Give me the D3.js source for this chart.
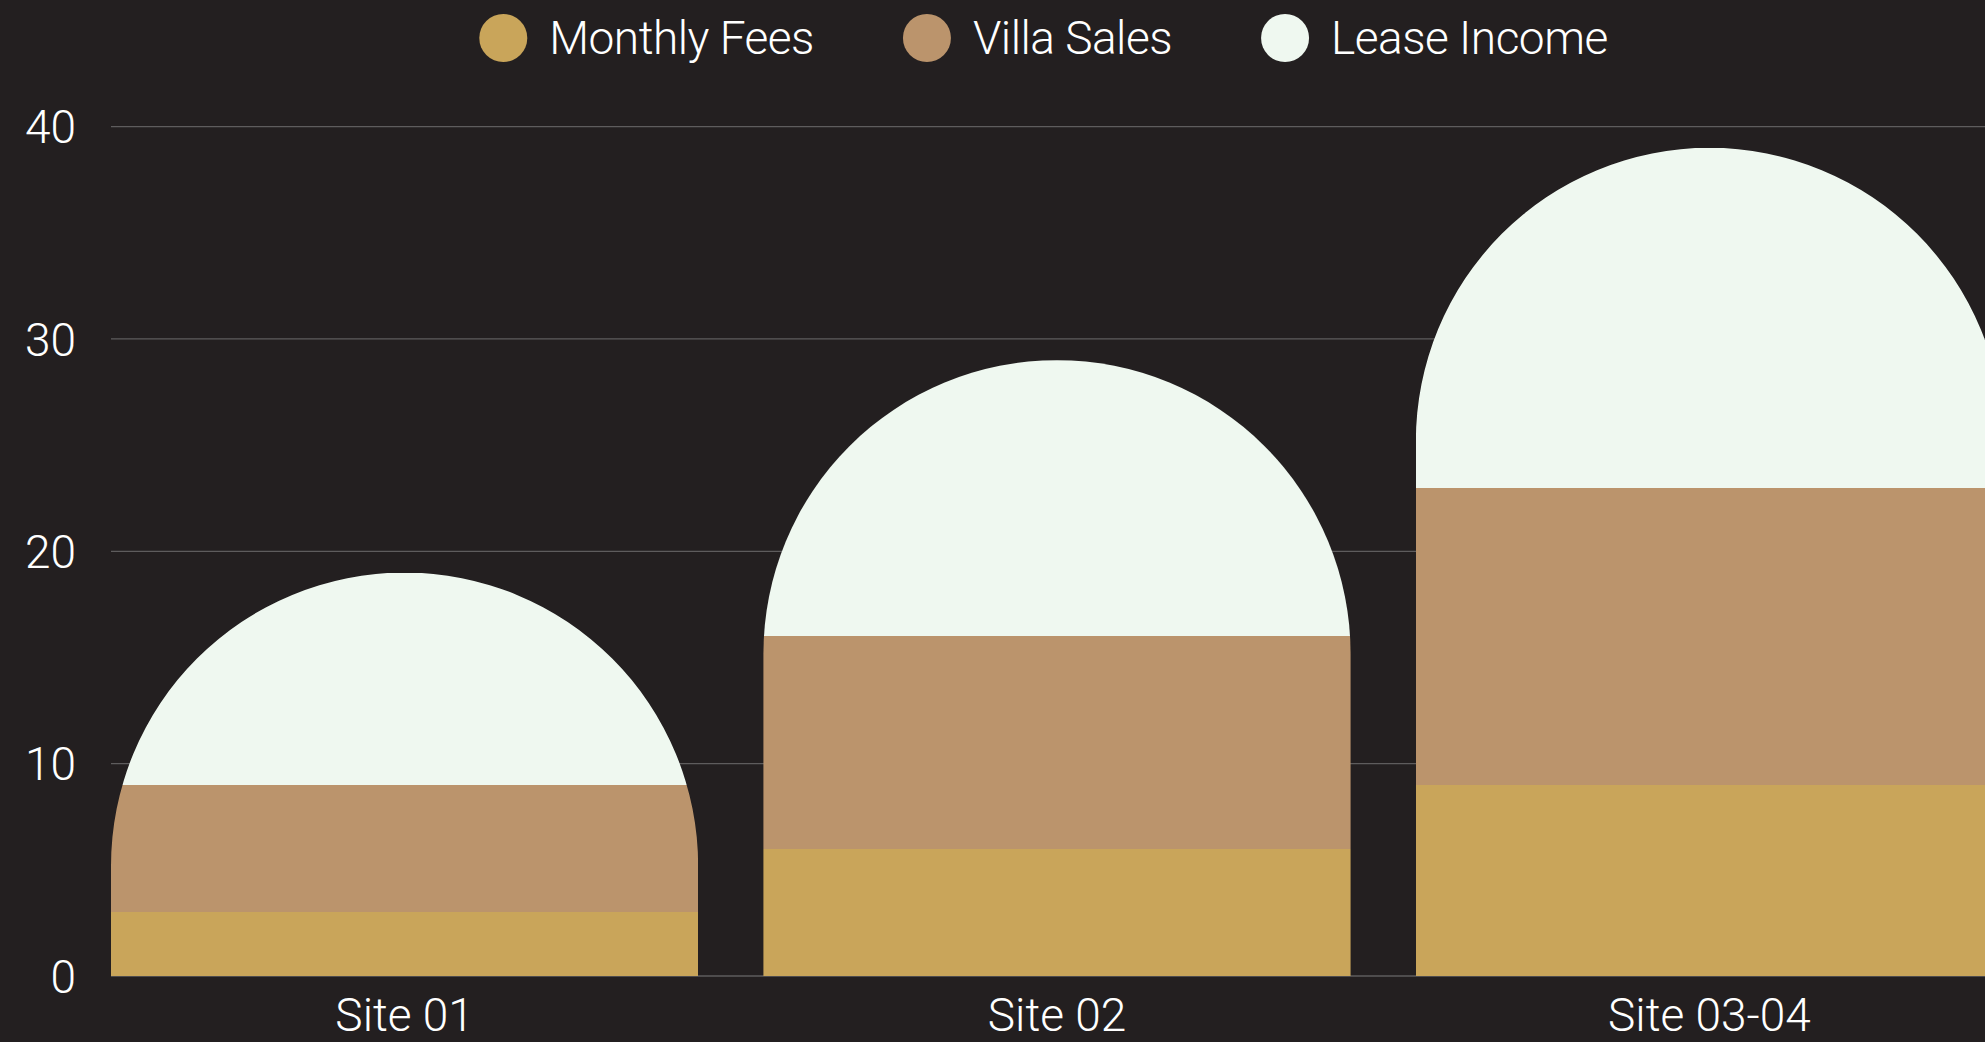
<!DOCTYPE html>
<meta charset="utf-8">
<style>
body { margin: 0; background: #231f20; overflow: hidden; }
text { font-family: Roboto, "Liberation Sans", sans-serif; font-weight: 300; fill: #fff; }
.grid line { stroke: #5e5c5d; stroke-width: 1.3px; }
</style>
<body>
<script src="https://d3js.org/d3.v7.min.js"></script>
<script>
const sites = ["Site 01", "Site 02", "Site 03-04"];
const seriesNames = ["Monthly Fees", "Villa Sales", "Lease Income"];
const monthlyFees = [3, 6, 9];
const villaSales = [6, 10, 14];
const leaseIncome = [10, 13, 16];
const yTicks = [0, 10, 20, 30, 40];
const colors = ["#c9a55a", "#bb946c", "#eff8f0"];

const width = 1985, height = 1042,
      plotLeft = 111, plotRight = 2003, plotTop = 126.6, plotBottom = 976;

const svg = d3.select("body").append("svg")
    .attr("width", width)
    .attr("height", height);

const x = d3.scaleBand().domain(sites).range([plotLeft, plotRight]).paddingInner(0.1).paddingOuter(0);
const y = d3.scaleLinear().domain([0, 40]).range([plotBottom, plotTop]);

// gridlines
svg.append("g").attr("class", "grid")
  .selectAll("line")
  .data(yTicks)
  .join("line")
    .attr("x1", plotLeft)
    .attr("x2", width)
    .attr("y1", d => y(d))
    .attr("y2", d => y(d));

// y labels
svg.append("g")
  .selectAll("text")
  .data(yTicks)
  .join("text")
    .attr("x", 76)
    .attr("y", d => y(d))
    .attr("dy", "0.36em")
    .attr("text-anchor", "end")
    .style("font-size", "46px")
    .text(d => d);

// stacked data
const rows = sites.map((s, i) => ({
  site: s,
  "Monthly Fees": monthlyFees[i],
  "Villa Sales": villaSales[i],
  "Lease Income": leaseIncome[i]
}));
const stack = d3.stack().keys(seriesNames)(rows);

const bw = x.bandwidth(), r = bw / 2;
const defs = svg.append("defs");
rows.forEach((d, i) => {
  const total = d3.sum(seriesNames, k => d[k]);
  const x0 = x(d.site), yt = y(total);
  defs.append("clipPath").attr("id", "clip" + i)
    .append("path")
    .attr("d", `M${x0},${plotBottom}L${x0},${yt + r}A${r},${r} 0 0 1 ${x0 + r},${yt}` +
               `A${r},${r} 0 0 1 ${x0 + bw},${yt + r}L${x0 + bw},${plotBottom}Z`);
});

const bars = svg.append("g")
  .selectAll("g")
  .data(rows)
  .join("g")
    .attr("clip-path", (d, i) => `url(#clip${i})`);

bars.selectAll("rect")
  .data((d, i) => stack.map((s, k) => ({ key: s.key, v: s[i], k })))
  .join("rect")
    .attr("x", d => x(d.v.data.site))
    .attr("width", bw)
    .attr("y", d => Math.round(y(d.v[1])))
    .attr("height", d => Math.round(y(d.v[0])) - Math.round(y(d.v[1])))
    .attr("fill", d => colors[d.k])
    .attr("shape-rendering", "crispEdges");

// x labels
svg.append("g")
  .selectAll("text")
  .data(sites)
  .join("text")
    .attr("x", d => x(d) + bw / 2)
    .attr("y", 1031)
    .attr("text-anchor", "middle")
    .style("font-size", "46px")
    .text(d => d);

// legend
const legend = svg.append("g");
const items = legend.selectAll("g")
  .data(seriesNames)
  .join("g");
items.append("circle")
  .attr("r", 24)
  .attr("cy", 38)
  .attr("fill", (d, i) => colors[i]);
items.append("text")
  .attr("x", 46)
  .attr("y", 37)
  .attr("dy", "0.36em")
  .style("font-size", "46px")
  .style("letter-spacing", "-0.5px")
  .text(d => d);

let cx = 0;
const pos = [];
items.each(function () {
  const w = d3.select(this).select("text").node().getComputedTextLength();
  pos.push(cx);
  cx += 46 + w + 113;
});
const legendW = cx - 113 + 24;
const start = 1043.5 - legendW / 2 + 24;
items.attr("transform", (d, i) => `translate(${start + pos[i]},0)`);
</script>
